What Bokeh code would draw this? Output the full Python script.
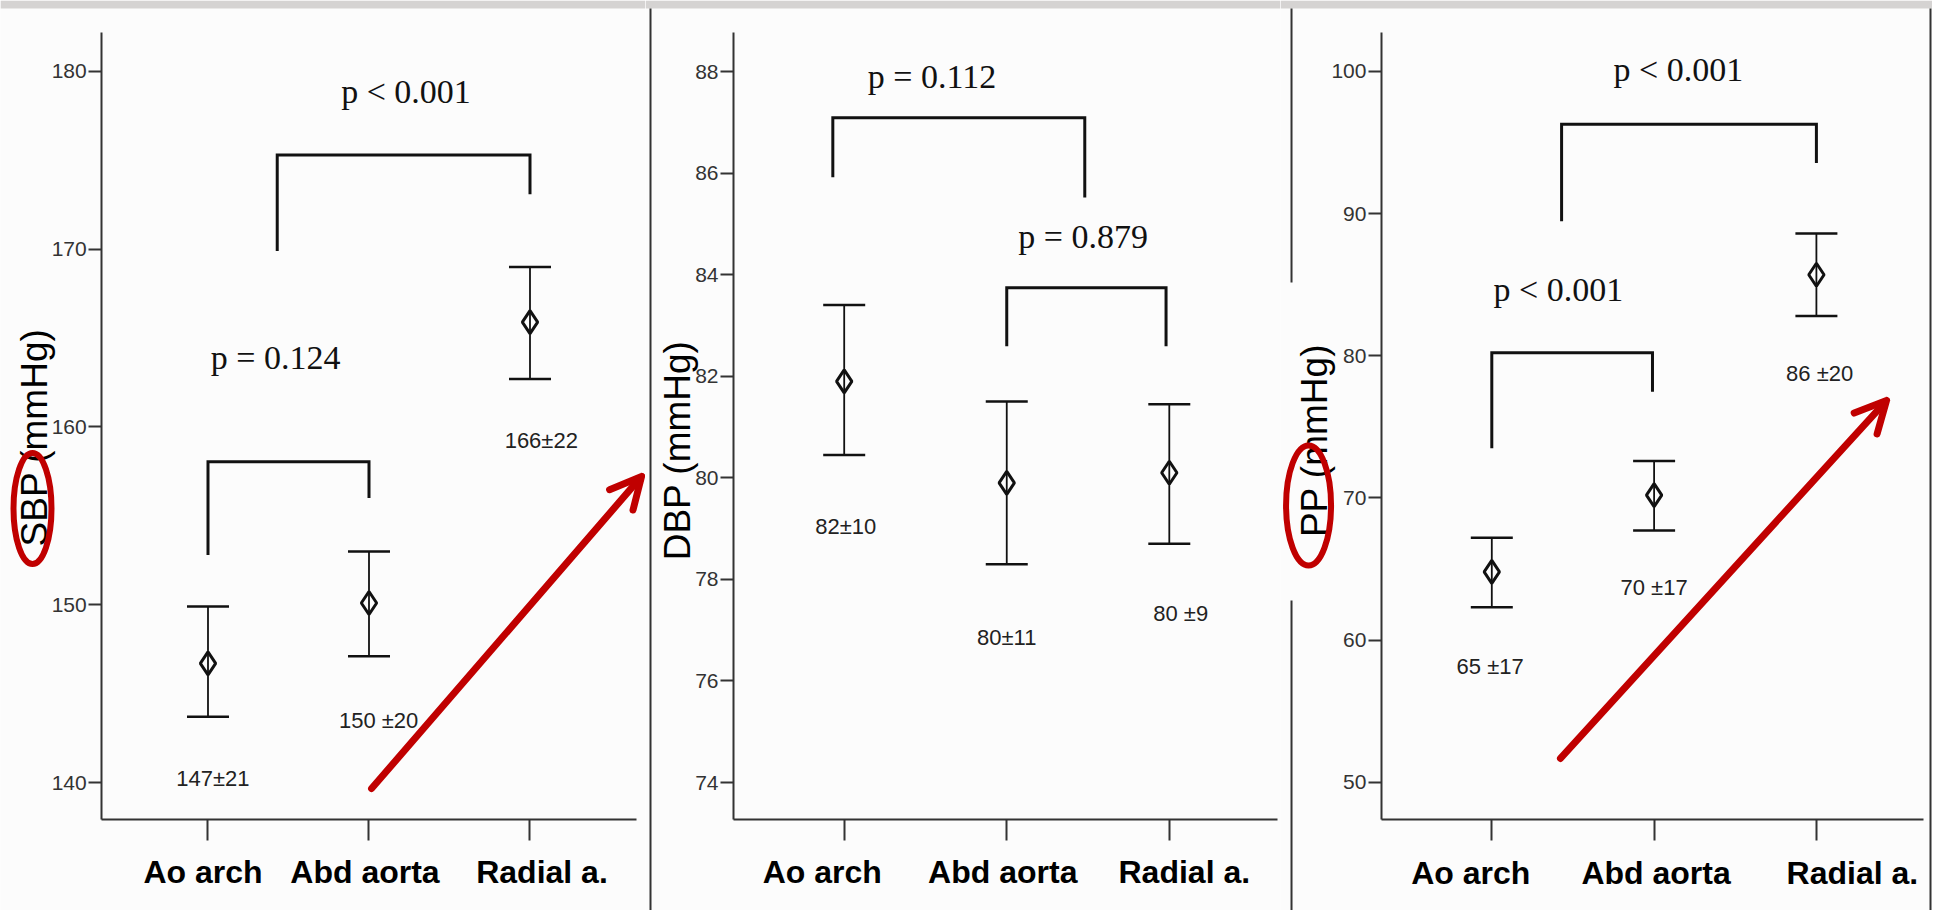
import math
from bokeh.plotting import figure
from bokeh.layouts import row
from bokeh.models import (Range1d, LinearAxis, FixedTicker, Whisker, TeeHead,
                          ColumnDataSource, Arrow, OpenHead)
from bokeh.core.properties import value
from bokeh.embed import file_html
from bokeh.resources import INLINE

# ---------------- data ----------------
categories = ["Ao arch", "Abd aorta", "Radial a."]
cat_pos = [1, 2, 3]

sbp_mean = [146.7, 150.1, 165.9]
sbp_upper = [149.9, 153.0, 169.0]
sbp_lower = [143.7, 147.1, 162.7]
sbp_text = ["147\u00b121", "150 \u00b120", "166\u00b122"]
sbp_ticks = [140, 150, 160, 170, 180]

dbp_mean = [81.9, 79.9, 80.1]
dbp_upper = [83.4, 81.5, 81.45]
dbp_lower = [80.45, 78.3, 78.7]
dbp_text = ["82\u00b110", "80\u00b111", "80 \u00b19"]
dbp_ticks = [74, 76, 78, 80, 82, 84, 86, 88]

pp_mean = [64.8, 70.2, 85.7]
pp_upper = [67.2, 72.6, 88.6]
pp_lower = [62.3, 67.7, 82.8]
pp_text = ["65 \u00b117", "70 \u00b117", "86 \u00b120"]
pp_ticks = [50, 60, 70, 80, 90, 100]

# comparisons (p-values) and their brackets
sbp_p = ["p < 0.001", "p = 0.124"]
sbp_br_x0 = [1.43, 1.0]
sbp_br_x1 = [3.0, 2.0]
sbp_br_top = [175.3, 158.05]
sbp_br_y0 = [169.9, 152.8]
sbp_br_y1 = [173.1, 156.0]

dbp_p = ["p = 0.112", "p = 0.879"]
dbp_br_x0 = [0.93, 2.0]
dbp_br_x1 = [2.48, 2.98]
dbp_br_top = [87.09, 83.74]
dbp_br_y0 = [85.92, 82.59]
dbp_br_y1 = [85.52, 82.59]

pp_p = ["p < 0.001", "p < 0.001"]
pp_br_x0 = [1.43, 1.0]
pp_br_x1 = [3.0, 1.99]
pp_br_top = [96.28, 80.21]
pp_br_y0 = [89.46, 73.49]
pp_br_y1 = [93.56, 77.47]

# ---------------- styles / layout ----------------
INK = "#111111"
AX = "#333333"
RED = "#c00000"
BG = "#fcfcfc"
BAND = "#d5d3d2"
H = 910

panels = [
    dict(w=645, xr=(-0.2888, 3.7174), yr=(132.799, 183.994), xb=(0.34, 3.66), yb=(137.92, 182.19),
         band=183.544, cat_dx=[-5, -4, 12],
         ticks=sbp_ticks, mean=sbp_mean, up=sbp_upper, lo=sbp_lower, vt=sbp_text,
         vt_x=[1.03, 2.06, 3.07], vt_dy=[62, 64, 61],
         p=sbp_p, p_x=[2.23, 1.42], p_y=[178.85, 163.9],
         br=(sbp_br_x0, sbp_br_x1, sbp_br_top, sbp_br_y0, sbp_br_y1),
         ylab="SBP (mmHg)", ylab_xy=(-0.078, 159.41),
         arrow=(2.016, 139.66, 3.693, 157.22), ell=(-0.090, 155.41, 38, 111), sep=[]),
    dict(w=635, xr=(-0.2224, 3.6841), yr=(71.480, 89.398), xb=(0.319, 3.666), yb=(73.272, 88.768),
         band=89.240, cat_dx=[-22, -4, 15],
         ticks=dbp_ticks, mean=dbp_mean, up=dbp_upper, lo=dbp_lower, vt=dbp_text,
         vt_x=[1.01, 2.0, 3.07], vt_dy=[72, 73, 70],
         p=dbp_p, p_x=[1.54, 2.47], p_y=[87.9, 84.75],
         br=(dbp_br_x0, dbp_br_x1, dbp_br_top, dbp_br_y0, dbp_br_y1),
         ylab="DBP (mmHg)", ylab_xy=(-0.0225, 80.54),
         arrow=None, ell=None, sep=[(-0.1916, 71.480, 89.240)]),
    dict(w=652, xr=(-0.3019, 3.7153), yr=(40.973, 104.995), xb=(0.320, 3.66), yb=(47.37, 102.744),
         band=104.432, cat_dx=[-21, 2, 36],
         ticks=pp_ticks, mean=pp_mean, up=pp_upper, lo=pp_lower, vt=pp_text,
         vt_x=[0.99, 2.0, 3.02], vt_dy=[59, 57, 58],
         p=pp_p, p_x=[2.15, 1.41], p_y=[100.15, 84.65],
         br=(pp_br_x0, pp_br_x1, pp_br_top, pp_br_y0, pp_br_y1),
         ylab="PP (mmHg)", ylab_xy=(-0.0924, 74.04),
         arrow=(1.423, 51.67, 3.432, 76.85), ell=(-0.129, 69.47, 45, 120),
         sep=[(-0.234, 85.16, 104.432), (-0.234, 40.973, 62.78), (3.703, 40.973, 104.432)]),
]

NARROW = "Liberation Sans Narrow, Liberation Sans"


def make_panel(cfg):
    p = figure(width=cfg["w"], height=H, x_range=Range1d(*cfg["xr"]), y_range=Range1d(*cfg["yr"]),
               x_axis_type=None, y_axis_type=None, toolbar_location=None, output_backend="svg",
               min_border=0, outline_line_color=None,
               background_fill_color=BG, border_fill_color=BG)

    # grey band along the top edge of the slide
    p.quad(left=[cfg["xr"][0]], right=[cfg["xr"][1]], bottom=[cfg["band"]], top=[cfg["yr"][1]],
           fill_color=BAND, line_alpha=0)

    # separator / frame lines between panels
    if cfg["sep"]:
        p.segment(x0=[s[0] for s in cfg["sep"]], y0=[s[1] for s in cfg["sep"]],
                  x1=[s[0] for s in cfg["sep"]], y1=[s[2] for s in cfg["sep"]],
                  line_color=AX, line_width=2)

    # axes
    xa = LinearAxis(ticker=FixedTicker(ticks=cat_pos),
                    major_label_overrides={c: "" for c in cat_pos},
                    fixed_location=cfg["yb"][0], bounds=cfg["xb"],
                    axis_line_color=AX, axis_line_width=2,
                    major_tick_line_color=AX, major_tick_line_width=2,
                    major_tick_out=21, major_tick_in=0, minor_tick_out=0,
                    major_label_text_font_size="10px")
    p.add_layout(xa, "below")
    ya = LinearAxis(ticker=FixedTicker(ticks=cfg["ticks"]),
                    fixed_location=cfg["xb"][0], bounds=cfg["yb"],
                    axis_line_color=AX, axis_line_width=2,
                    major_tick_line_color=AX, major_tick_line_width=2,
                    major_tick_out=13, major_tick_in=0, minor_tick_out=0,
                    major_label_standoff=2,
                    major_label_text_font=NARROW, major_label_text_font_size="21px",
                    major_label_text_color="#333333")
    p.add_layout(ya, "left")

    # category names under the axis
    csrc = ColumnDataSource(dict(x=cat_pos, y=[cfg["yb"][0]] * len(cat_pos),
                                 t=categories, dx=cfg["cat_dx"]))
    p.text(x="x", y="y", text="t", x_offset="dx", y_offset=53, source=csrc,
           text_font=value("Liberation Sans"), text_font_style="bold", text_font_size="32px",
           text_color="#000000", text_align="center", text_baseline="middle")

    # brackets with p-values
    x0, x1, top, y0, y1 = cfg["br"]
    p.multi_line(xs=[[a, a, b, b] for a, b in zip(x0, x1)],
                 ys=[[c, t, t, d] for c, t, d in zip(y0, top, y1)],
                 line_color=INK, line_width=3, line_join="miter")
    p.text(x=cfg["p_x"], y=cfg["p_y"], text=cfg["p"], text_font=value("Liberation Serif"),
           text_font_size="34px", text_color=INK, text_align="center", text_baseline="middle")

    # error bars (mean +/- CI) and diamonds
    src = ColumnDataSource(dict(x=cat_pos, mean=cfg["mean"], upper=cfg["up"], lower=cfg["lo"]))
    wh = Whisker(source=src, base="x", upper="upper", lower="lower", dimension="height",
                 line_color=INK, line_width=1.8,
                 upper_head=TeeHead(size=42, line_color=INK, line_width=2.5),
                 lower_head=TeeHead(size=42, line_color=INK, line_width=2.5))
    p.add_layout(wh)
    p.scatter(x="x", y="mean", source=src, marker="diamond", size=23,
              fill_alpha=0, line_color=INK, line_width=3)

    # value labels below each error bar
    lsrc = ColumnDataSource(dict(x=cfg["vt_x"], y=cfg["lo"], t=cfg["vt"], dy=cfg["vt_dy"]))
    p.text(x="x", y="y", text="t", y_offset="dy", source=lsrc, text_font=value(NARROW),
           text_font_size="22px", text_color="#222222", text_align="center", text_baseline="middle")

    # y-axis title
    lx, ly = cfg["ylab_xy"]
    p.text(x=[lx], y=[ly], text=[cfg["ylab"]], angle=math.pi / 2, text_font=value("Liberation Sans"),
           text_font_size="37px", text_color="#000000", text_align="center", text_baseline="middle")

    # red highlight annotations
    if cfg["ell"] is not None:
        ex, ey, ew, eh = cfg["ell"]
        p.ellipse(x=[ex], y=[ey], width=ew, height=eh, width_units="screen", height_units="screen",
                  fill_alpha=0, line_color=RED, line_width=6)
    if cfg["arrow"] is not None:
        xs, ys, xe, ye = cfg["arrow"]
        p.add_layout(Arrow(x_start=xs, y_start=ys, x_end=xe, y_end=ye,
                           line_color=RED, line_width=7, line_cap="round",
                           end=OpenHead(size=31, line_color=RED, line_width=7,
                                        line_cap="round", line_join="round")))
    return p


figs = [make_panel(c) for c in panels]
layout = row(*figs, spacing=0)

with open("out.html", "w") as f:
    f.write(file_html(layout, INLINE))
